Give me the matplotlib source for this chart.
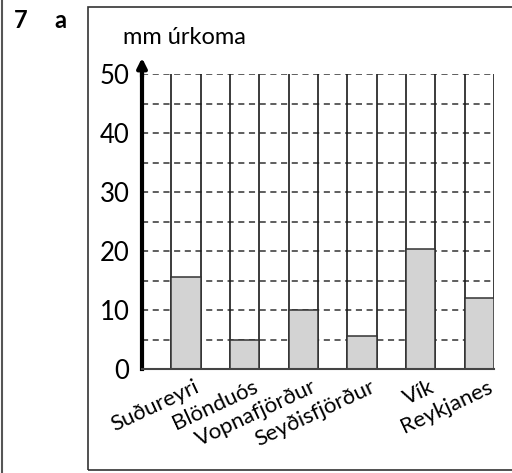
import matplotlib.pyplot as plt
import matplotlib.patches as patches
import numpy as np

plt.rcParams['font.family'] = ['Lato', 'DejaVu Sans']

stadir = ['Suðureyri', 'Blönduós', 'Vopnafjörður', 'Seyðisfjörður', 'Vík', 'Reykjanes']
urkoma = [15.6, 5.0, 10.0, 5.6, 20.4, 12.1]
y_ticks = [0, 10, 20, 30, 40, 50]

fig = plt.figure(figsize=(5.12, 4.73), dpi=100)
W, H = 512, 473

# page line and frame
fig.add_artist(plt.Line2D([2 / W, 2 / W], [0, 1], color='#555555', lw=1.5))
fig.add_artist(patches.Rectangle((88 / W, 1 - 470 / H), 1.0, (470 - 7) / H,
                                 fill=False, edgecolor='#333333', lw=1.2))
fig.text(14 / W, 1 - 20 / H, '7', fontsize=17, fontweight='bold', va='center')
fig.text(54 / W, 1 - 20 / H, 'a', fontsize=17, fontweight='bold', va='center')

ax = fig.add_axes([142 / W, 1 - 369 / H, 352 / W, 295 / H])
n = len(stadir)
x = np.arange(n) * 2 + 1.5  # bars in every second column

# grid
for yy in range(5, 51, 5):
    ax.plot([0, 2 * n], [yy, yy], color='#333333', lw=1.1, dashes=(4, 3), zorder=1)
for xx in range(1, 2 * n + 1):
    ax.plot([xx, xx], [0, 50], color='#1a1a1a', lw=1.2, zorder=1)

ax.bar(x, urkoma, width=1, color='#d3d3d3', edgecolor='#333333', lw=1.1, zorder=3)

ax.set_xlim(0, 2 * n)
ax.set_ylim(0, 50)
for s in ['top', 'right']:
    ax.spines[s].set_visible(False)
ax.spines['left'].set_linewidth(3)
ax.spines['left'].set_color('black')
ax.spines['bottom'].set_linewidth(1.5)
ax.spines['bottom'].set_color('#444444')
ax.spines['bottom'].set_zorder(4)

ax.annotate('', xy=(0, 53.2), xytext=(0, 49), xycoords='data',
            arrowprops=dict(arrowstyle='-|>', color='black', lw=3, mutation_scale=14),
            annotation_clip=False)
ax.text(-0.65, 56.2, 'mm úrkoma', fontsize=17, va='center', ha='left', clip_on=False)

ax.set_yticks(y_ticks)
ax.set_yticklabels([str(v) for v in y_ticks], fontsize=18.5)
ax.tick_params(axis='y', length=0, pad=9)
ax.set_xticks([])

for xi, nafn in zip(x, stadir):
    ax.text(xi + 0.27, -1.3, nafn, rotation=25, rotation_mode='anchor',
            ha='right', va='top', fontsize=16, clip_on=False)

fig.savefig('out.png', dpi=100)
